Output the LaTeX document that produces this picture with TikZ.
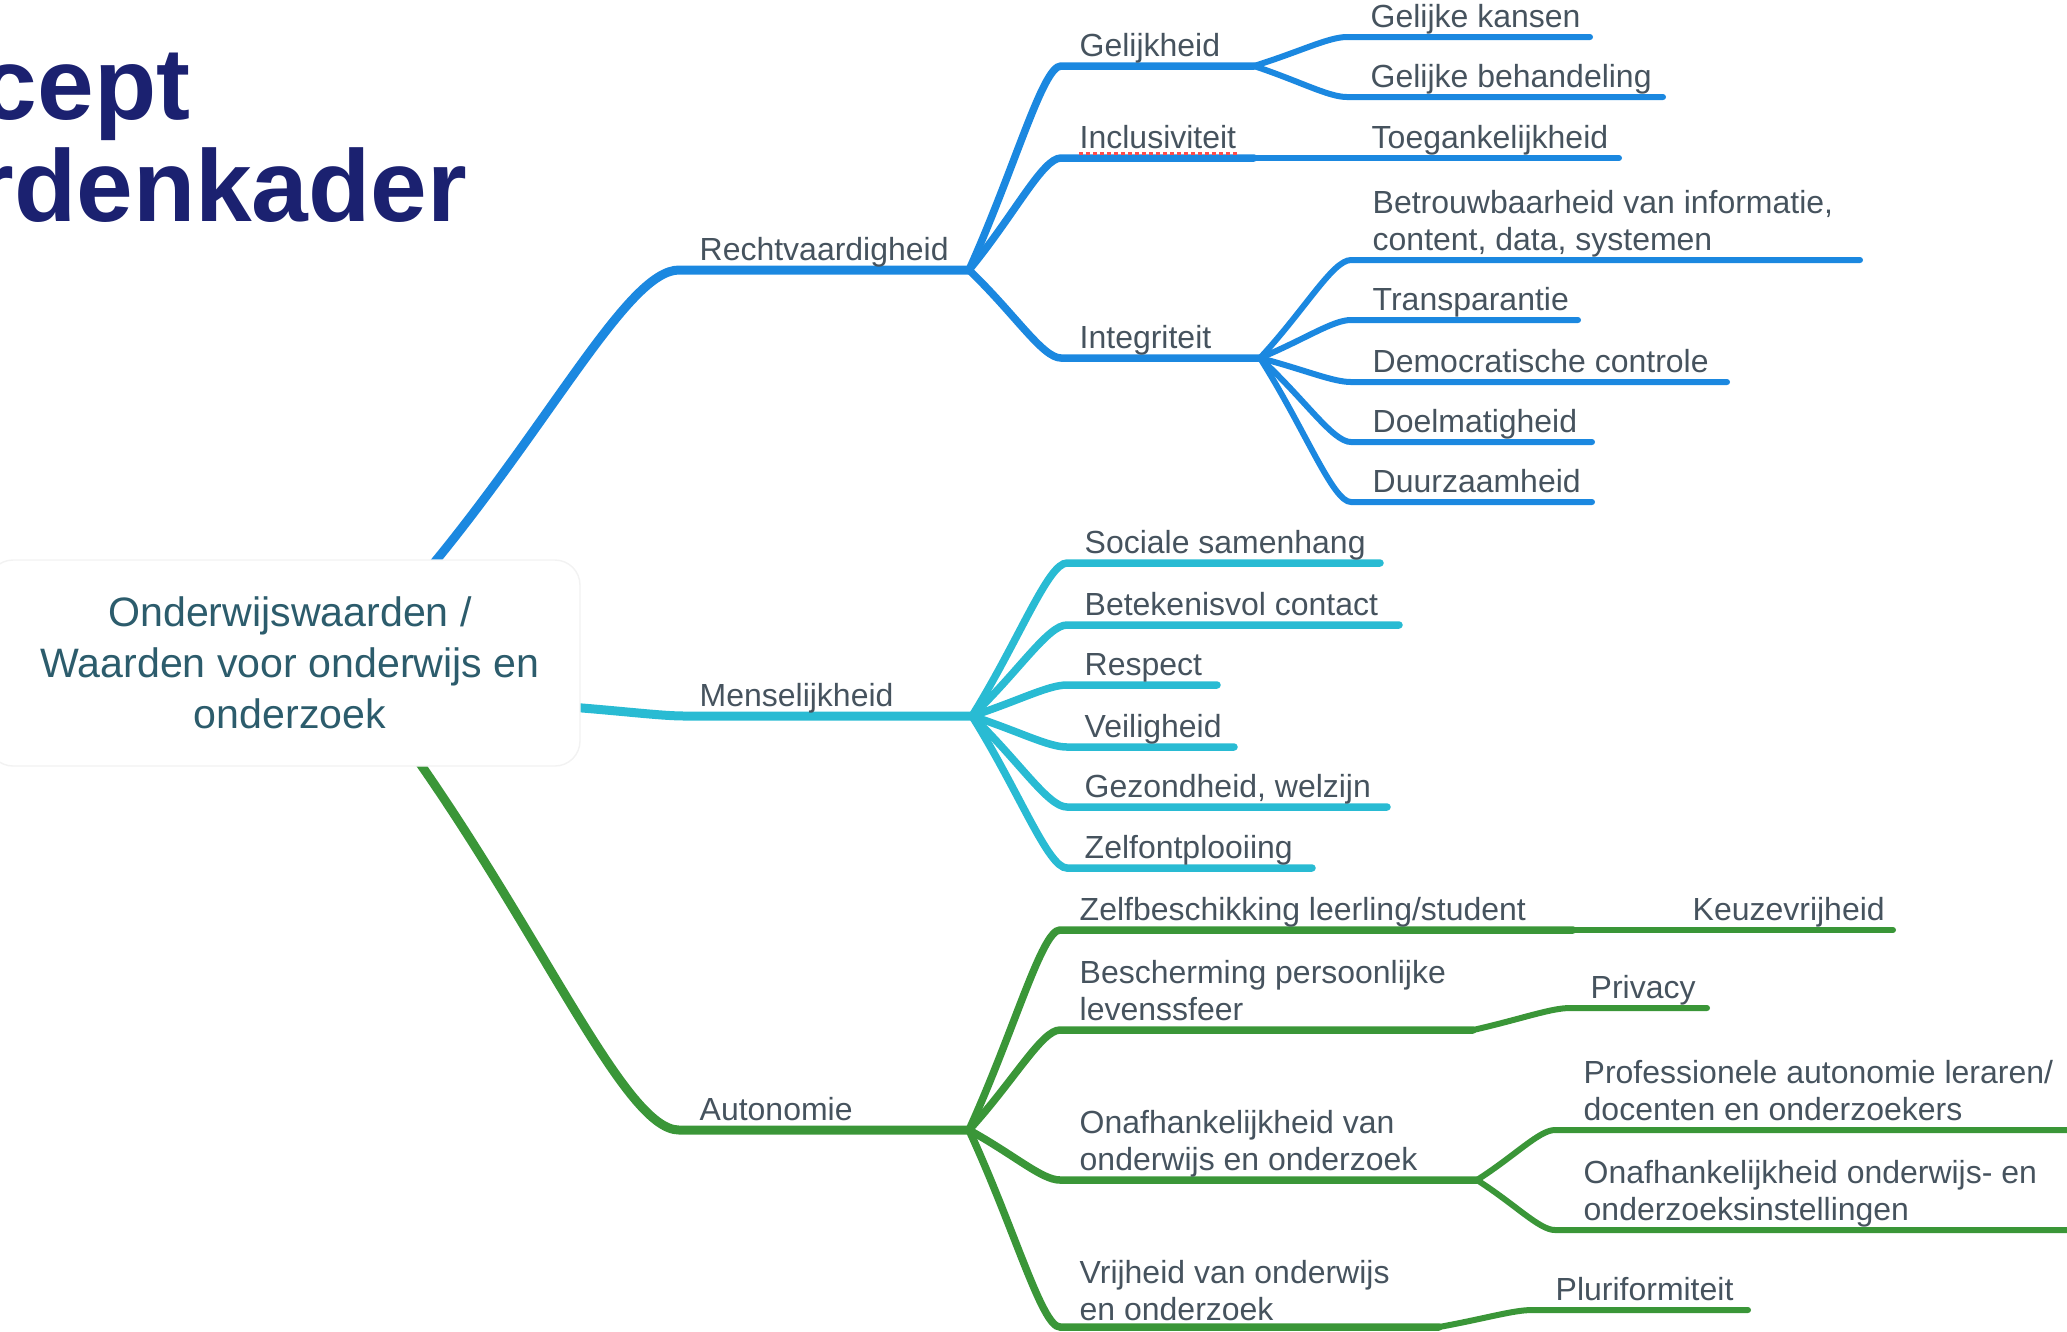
\documentclass[tikz,border=0pt]{standalone}
\usepackage{fontspec}
\setsansfont{Liberation Sans}
\usetikzlibrary{calc}
\definecolor{mmblue}{HTML}{1B88E0}
\definecolor{mmteal}{HTML}{29BBD3}
\definecolor{mmgreen}{HTML}{3A9638}
\definecolor{txtgray}{HTML}{46535E}
\definecolor{roottxt}{HTML}{2C5C6C}
\definecolor{titleblue}{HTML}{1B2170}
\begin{document}
\begin{tikzpicture}[font=\sffamily, x=0.1mm, y=-0.1mm,
    mmcurve/.style={to path={.. controls ($(\tikztostart)!0.5!(\tikztotarget)$) and ($(\tikztotarget)!0.2!(\tikztostart|-\tikztotarget)$) .. (\tikztotarget)}},
    mainline/.style={line width=0.9mm, line cap=round},
    subline/.style={line width=0.75mm, line cap=round},
    leafline/.style={line width=0.6mm, line cap=round},
    lbl/.style={anchor=base west, inner sep=0pt, text=txtgray, align=left,
        font=\sffamily\fontsize{9.1}{10.5}\selectfont}]
\useasboundingbox (0,0) rectangle (2067,1331);
\clip (0,0) rectangle (2067,1331);
%Title, only partly on the page
\node[anchor=base east, inner sep=0pt, text=titleblue, font=\sffamily\bfseries\fontsize{29}{29}\selectfont] (ttlA) at (191,119) {cept};
\node[anchor=base east, inner sep=0pt, text=titleblue, font=\sffamily\bfseries\fontsize{29}{29}\selectfont] (ttlB) at (468,221) {rdenkader};
%Points where the branches start, bend and split.
% C = end of the curve, B = where the next level splits off,
% E = free end of a leaf line
\coordinate (rvS) at (424,575);  \coordinate (rvC) at (679,270);  \coordinate (rvB) at (969,270);
\coordinate (glC) at (1061,66);  \coordinate (glB) at (1254,66);
\coordinate (inC) at (1061,158); \coordinate (inB) at (1254,158);
\coordinate (igC) at (1061,358); \coordinate (igB) at (1260,358);
\coordinate (gkC) at (1347,37);  \coordinate (gkE) at (1590,37);
\coordinate (gbC) at (1347,97);  \coordinate (gbE) at (1663,97);
\coordinate (tgE) at (1619,158);
\coordinate (btC) at (1351,260); \coordinate (btE) at (1860,260);
\coordinate (trC) at (1351,320); \coordinate (trE) at (1578,320);
\coordinate (dcC) at (1351,382); \coordinate (dcE) at (1727,382);
\coordinate (dmC) at (1351,442); \coordinate (dmE) at (1592,442);
\coordinate (dzC) at (1351,502); \coordinate (dzE) at (1592,502);
\coordinate (mhS) at (570,707);  \coordinate (mhC) at (685,716);  \coordinate (mhB) at (972,716);
\coordinate (ssC) at (1067,563); \coordinate (ssE) at (1380,563);
\coordinate (bcC) at (1067,625); \coordinate (bcE) at (1399,625);
\coordinate (rsC) at (1067,685); \coordinate (rsE) at (1217,685);
\coordinate (vhC) at (1067,747); \coordinate (vhE) at (1234,747);
\coordinate (gwC) at (1067,807); \coordinate (gwE) at (1387,807);
\coordinate (zoC) at (1067,868); \coordinate (zoE) at (1312,868);
\coordinate (auS) at (412,752);  \coordinate (auC) at (679,1130); \coordinate (auB) at (969,1130);
\coordinate (zbC) at (1060,930); \coordinate (zbB) at (1573,930); \coordinate (kvE) at (1893,930);
\coordinate (bpC) at (1060,1030); \coordinate (bpB) at (1473,1030);
\coordinate (pvC) at (1570,1008); \coordinate (pvE) at (1707,1008);
\coordinate (ouC) at (1060,1180); \coordinate (ouB) at (1477,1180);
\coordinate (paC) at (1555,1130); \coordinate (paE) at (2090,1130);
\coordinate (oiC) at (1555,1230); \coordinate (oiE) at (2090,1230);
\coordinate (vrC) at (1060,1327); \coordinate (vrB) at (1439,1327);
\coordinate (plC) at (1532,1310); \coordinate (plE) at (1748,1310);
%Blue branch: Rechtvaardigheid
\draw[mainline, mmblue] (rvS) to[mmcurve] (rvC) -- (rvB);
\draw[subline, mmblue] (rvB) to[mmcurve] (glC) -- (glB);
\draw[subline, mmblue] (rvB) to[mmcurve] (inC) -- (inB);
\draw[subline, mmblue] (rvB) to[mmcurve] (igC) -- (igB);
\draw[leafline, mmblue] (glB) to[mmcurve] (gkC) -- (gkE);
\draw[leafline, mmblue] (glB) to[mmcurve] (gbC) -- (gbE);
\draw[leafline, mmblue] (inB) -- (tgE);
\draw[leafline, mmblue] (igB) to[mmcurve] (btC) -- (btE);
\draw[leafline, mmblue] (igB) to[mmcurve] (trC) -- (trE);
\draw[leafline, mmblue] (igB) to[mmcurve] (dcC) -- (dcE);
\draw[leafline, mmblue] (igB) to[mmcurve] (dmC) -- (dmE);
\draw[leafline, mmblue] (igB) to[mmcurve] (dzC) -- (dzE);
%Teal branch: Menselijkheid
\draw[mainline, mmteal] (mhS) to[mmcurve] (mhC) -- (mhB);
\draw[subline, mmteal] (mhB) to[mmcurve] (ssC) -- (ssE);
\draw[subline, mmteal] (mhB) to[mmcurve] (bcC) -- (bcE);
\draw[subline, mmteal] (mhB) to[mmcurve] (rsC) -- (rsE);
\draw[subline, mmteal] (mhB) to[mmcurve] (vhC) -- (vhE);
\draw[subline, mmteal] (mhB) to[mmcurve] (gwC) -- (gwE);
\draw[subline, mmteal] (mhB) to[mmcurve] (zoC) -- (zoE);
%Green branch: Autonomie
\draw[mainline, mmgreen] (auS) to[mmcurve] (auC) -- (auB);
\draw[subline, mmgreen] (auB) to[mmcurve] (zbC) -- (zbB);
\draw[subline, mmgreen] (auB) to[mmcurve] (bpC) -- (bpB);
\draw[subline, mmgreen] (auB) to[mmcurve] (ouC) -- (ouB);
\draw[subline, mmgreen] (auB) to[mmcurve] (vrC) -- (vrB);
\draw[leafline, mmgreen] (zbB) -- (kvE);
\draw[leafline, mmgreen] (bpB) to[mmcurve] (pvC) -- (pvE);
\draw[leafline, mmgreen] (ouB) to[mmcurve] (paC) -- (paE);
\draw[leafline, mmgreen] (ouB) to[mmcurve] (oiC) -- (oiE);
\draw[leafline, mmgreen] (vrB) to[mmcurve] (plC) -- (plE);
%The centre box goes on top of the three line starts
\draw[fill=white, draw=black!5, rounded corners=2.5mm] (-12,560) rectangle (580,766);
%for text with more lines the base anchor is the
% baseline of the last line
\node[anchor=base, inner sep=0pt, text=roottxt, align=center,
    font=\sffamily\fontsize{11.7}{14.5}\selectfont] (root) at (290,728)
    {Onderwijswaarden /\\Waarden voor onderwijs en\\onderzoek};
%Labels sit just above their lines
\node[lbl] (rechtv) at (699,260) {Rechtvaardigheid};
\node[lbl] (gelijk) at (1079,56) {Gelijkheid};
\node[lbl] (incl) at (1079,148) {Inclusiviteit};
\node[lbl] (integr) at (1079,348) {Integriteit};
\node[lbl] (gkans) at (1370,27) {Gelijke kansen};
\node[lbl] (gbeh) at (1370,87) {Gelijke behandeling};
\node[lbl] (toeg) at (1371,148) {Toegankelijkheid};
\node[lbl] (betr) at (1372,250) {Betrouwbaarheid van informatie,\\content, data, systemen};
\node[lbl] (transp) at (1372,310) {Transparantie};
\node[lbl] (democ) at (1372,372) {Democratische controle};
\node[lbl] (doelm) at (1372,432) {Doelmatigheid};
\node[lbl] (duurz) at (1372,492) {Duurzaamheid};
\node[lbl] (mensel) at (699,706) {Menselijkheid};
\node[lbl] (sociaal) at (1084,553) {Sociale samenhang};
\node[lbl] (betek) at (1084,615) {Betekenisvol contact};
\node[lbl] (respect) at (1084,675) {Respect};
\node[lbl] (veilig) at (1084,737) {Veiligheid};
\node[lbl] (gezond) at (1084,797) {Gezondheid, welzijn};
\node[lbl] (zelfontpl) at (1084,858) {Zelfontplooiing};
\node[lbl] (auton) at (699,1120) {Autonomie};
\node[lbl] (zelfbesch) at (1079,920) {Zelfbeschikking leerling/student};
\node[lbl] (keuze) at (1692,920) {Keuzevrijheid};
\node[lbl] (bescherm) at (1079,1020) {Bescherming persoonlijke\\levenssfeer};
\node[lbl] (privacy) at (1590,998) {Privacy};
\node[lbl] (onafh) at (1079,1170) {Onafhankelijkheid van\\onderwijs en onderzoek};
\node[lbl] (profaut) at (1583,1120) {Professionele autonomie leraren/\\docenten en onderzoekers};
\node[lbl] (onafhinst) at (1583,1220) {Onafhankelijkheid onderwijs- en\\onderzoeksinstellingen};
\node[lbl] (vrijh) at (1079,1320) {Vrijheid van onderwijs\\en onderzoek};
\node[lbl] (plurif) at (1555,1300) {Pluriformiteit};
%spell check marks under Inclusiviteit
\draw[red!70, line width=0.25mm, dash pattern=on 0.35mm off 0.35mm]
    ([yshift=-1.5pt]incl.base west) -- ([yshift=-1.5pt]incl.base east);
\end{tikzpicture}
\end{document}
